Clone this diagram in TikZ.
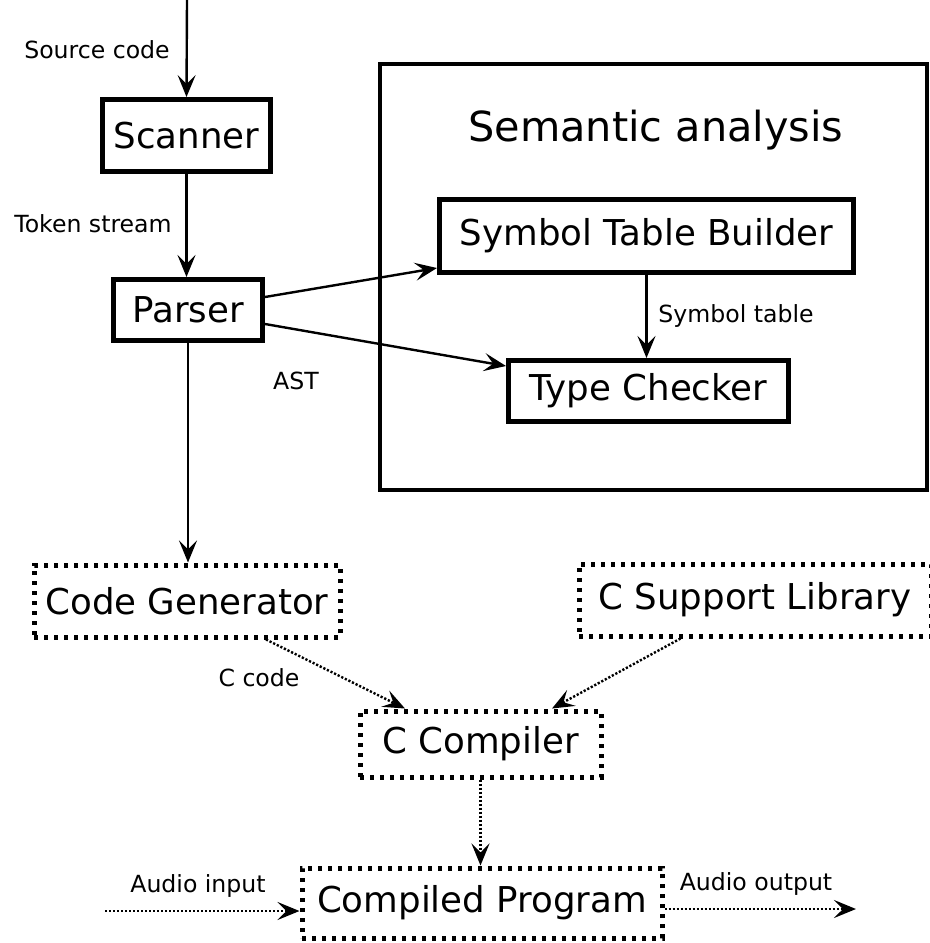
\documentclass[tikz,border=0pt]{standalone}
\usepackage{fontspec}
\setmainfont{DejaVu Sans}
\usetikzlibrary{arrows.meta}

\begin{document}
\begin{tikzpicture}[x=0.5pt, y=-0.5pt,
  box/.style={draw, line width=2.5pt, inner sep=0pt, font=\fontsize{17.8}{20}\selectfont},
  dotbox/.style={draw, line width=2.5pt, dash pattern=on 2.2pt off 2.8pt, inner sep=0pt, font=\fontsize{17.8}{20}\selectfont},
  lbl/.style={inner sep=0pt, font=\fontsize{11.8}{14}\selectfont},
  arr/.style={-{Stealth[length=11pt, width=9pt, inset=4.5pt]}, line width=1.2pt},
  dotarr/.style={arr, dash pattern=on 1.1pt off 0.9pt}]
  \useasboundingbox (0,0) rectangle (930,943);
  \clip (0,0) rectangle (930,943);

  \node[box, minimum width=84pt, minimum height=36pt] (scanner) at (186.5,135.5) {Scanner};
  \node[box, minimum width=74.5pt, minimum height=30.5pt] (parser) at (188,310) {Parser};

  \node[draw, line width=2pt, minimum width=273.5pt, minimum height=213pt] (semantic) at (653.5,277) {};
  \node[inner sep=0pt, font=\fontsize{20.7}{24}\selectfont] (semtitle) at (656,130) {Semantic analysis};
  \node[box, minimum width=207pt, minimum height=36.5pt] (symtab) at (646.5,236) {Symbol Table Builder};
  \node[box, minimum width=140pt, minimum height=30.5pt] (typecheck) at (648.5,391) {Type Checker};

  \node[dotbox, minimum width=153pt, minimum height=36pt] (codegen) at (187,601) {Code Generator};
  \node[dotbox, minimum width=176pt, minimum height=36pt] (support) at (755,600) {C Support Library};
  \node[dotbox, minimum width=120.5pt, minimum height=33pt] (ccomp) at (480.5,744) {C Compiler};
  \node[dotbox, minimum width=180pt, minimum height=35pt] (compiled) at (482,903) {Compiled Program};

  \node[lbl] (srclbl) at (97,50) {Source code};
  \node[lbl] (toklbl) at (93,224) {Token stream};
  \node[lbl] (astlbl) at (296,381) {AST};
  \node[lbl, anchor=west] (symlbl) at (658,316) {Symbol table};
  \node[lbl] (ccodelbl) at (259,678) {C code};
  \node[lbl] (inlbl) at (198,886) {Audio input};
  \node[lbl] (outlbl) at (756,884) {Audio output};

  \coordinate (src) at (187,0);
  \coordinate (ain) at (105,911);
  \coordinate (aout) at (856,909);

  \draw[arr] (src) -- (scanner.north);
  \draw[arr] (scanner.south) -- (scanner.south |- parser.north);
  \draw[arr] ([yshift=6.5pt]parser.east) -- ([yshift=-16pt]symtab.west);
  \draw[arr] ([yshift=-7pt]parser.east) -- ([yshift=12.5pt]typecheck.west);
  \draw[arr] (symtab.south) -- (symtab.south |- typecheck.north);
  \draw[arr] (parser.south) -- (parser.south |- codegen.north);

  \draw[dotarr] ([xshift=39.5pt]codegen.south) -- ([xshift=-37.75pt]ccomp.north);
  \draw[dotarr] ([xshift=-37.25pt]support.south) -- ([xshift=35.75pt]ccomp.north);
  \draw[dotarr] (ccomp.south) -- (ccomp.south |- compiled.north);
  \draw[dotarr] (ain) -- (ain -| compiled.west);
  \draw[dotarr] (aout -| compiled.east) -- (aout);
\end{tikzpicture}
\end{document}
